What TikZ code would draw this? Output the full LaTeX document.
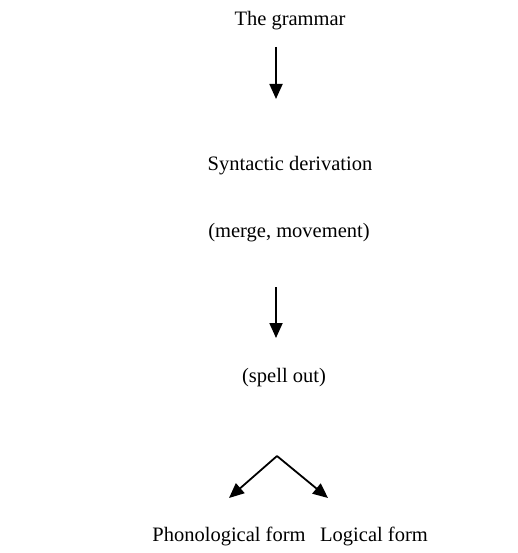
\documentclass[tikz,border=0pt]{standalone}
\usepackage{fontspec}
\setmainfont{Liberation Serif}
\usetikzlibrary{arrows.meta}
\begin{document}
\begin{tikzpicture}[x=1pt,y=-1pt,
  label/.style={anchor=base,inner sep=0pt,font=\fontsize{20.5}{24}\selectfont},
  flow/.style={line width=1.8pt,-{Triangle[length=15pt,width=13pt]}}]
\useasboundingbox (0,0) rectangle (517,553);
% stages of the derivation
\node[label] (gram) at (290,26) {The grammar};
\node[label] (synt) at (290,171) {Syntactic derivation};
\node[label] (merge) at (289,237) {(merge, movement)};
\node[label] (spell) at (284,382) {(spell out)};
\node[label] (pf) at (229,541) {Phonological form};
\node[label] (lf) at (374,541) {Logical form};
% arrow end points
\coordinate (a1s) at (276,47);
\coordinate (a1e) at (276,99);
\coordinate (a2s) at (276,287);
\coordinate (a2e) at (276,338);
\coordinate (apex) at (277,456);
\coordinate (pft) at (229,498);
\coordinate (lft) at (328,498);
% connectors
\draw[flow] (a1s) -- (a1e);
\draw[flow] (a2s) -- (a2e);
\draw[flow] (apex) -- (pft);
\draw[flow] (apex) -- (lft);
\end{tikzpicture}
\end{document}
